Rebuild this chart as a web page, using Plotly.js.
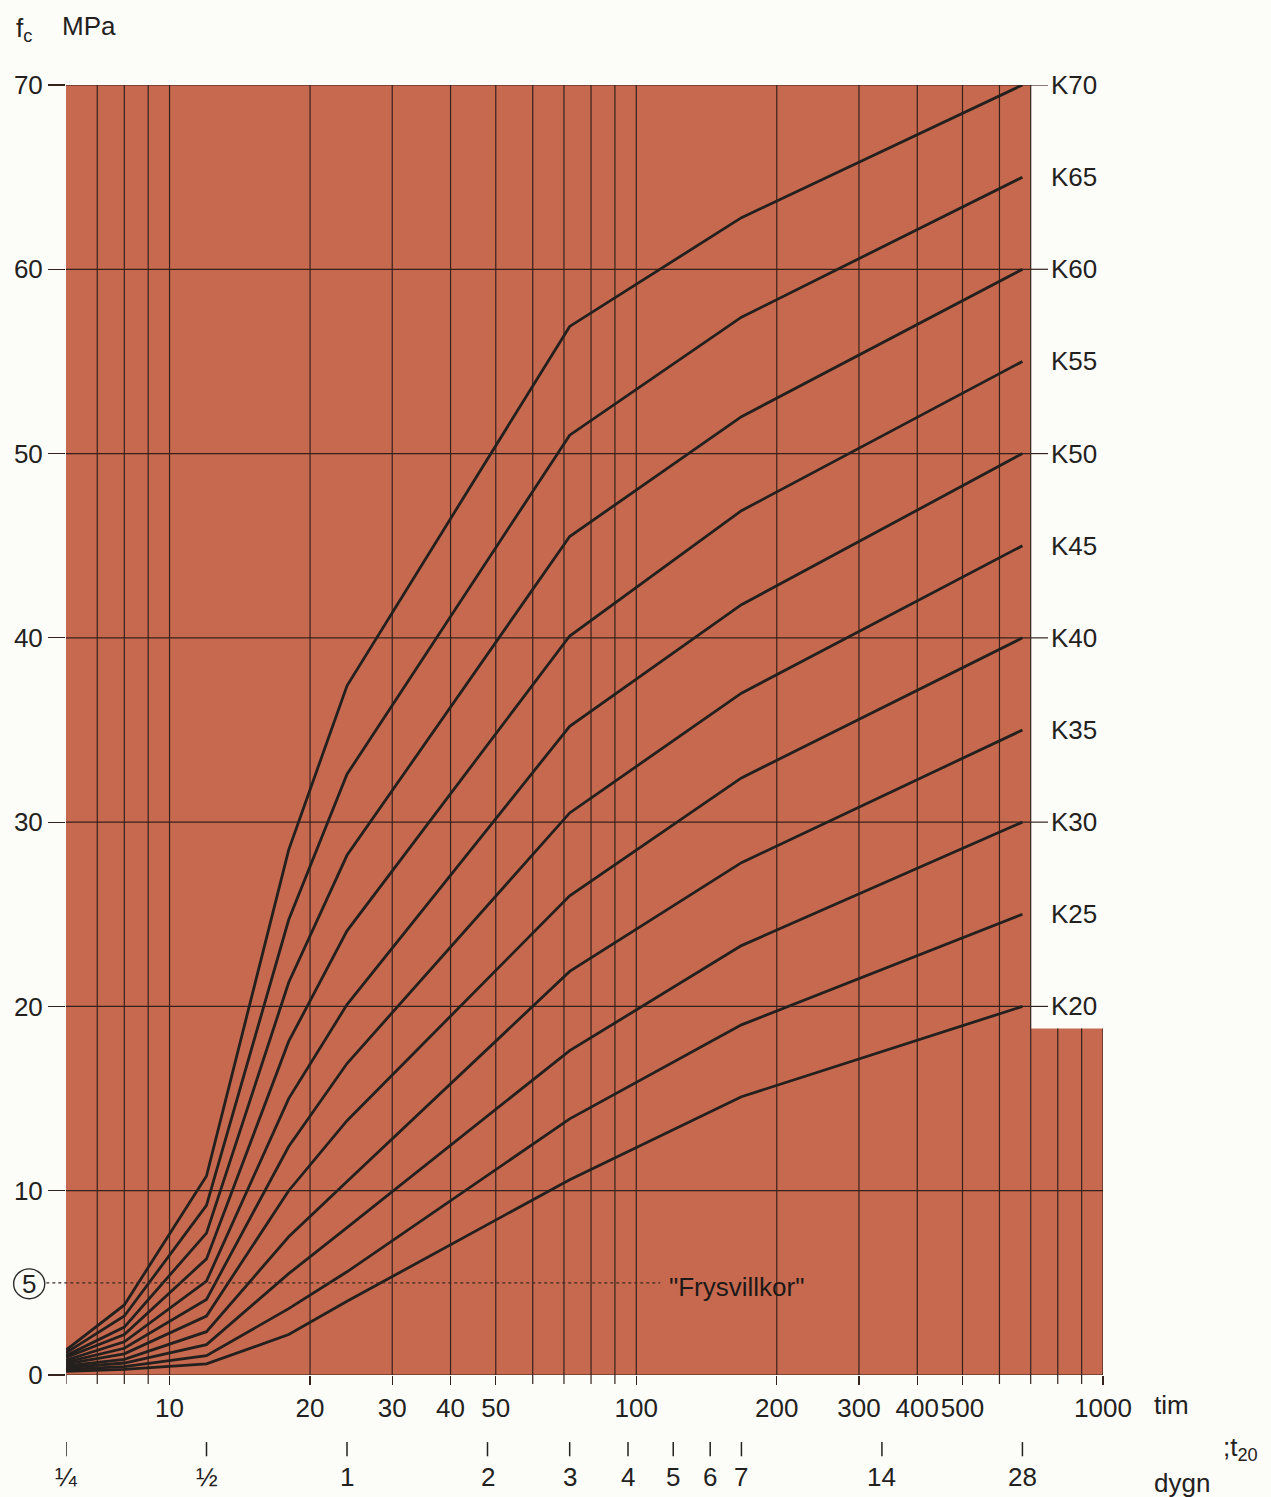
<!DOCTYPE html>
<html>
<head>
<meta charset="utf-8">
<script src="https://cdn.plot.ly/plotly-3.0.1.min.js"></script>
<style>
  html, body { margin: 0; padding: 0; background: #fcfdf9; }
  #chart { width: 1271px; height: 1497px; }
</style>
</head>
<body>
<div id="chart"></div>
<script>
// ---- data ----
const hours = [6, 8, 12, 18, 24, 72, 168, 672];
const classNames = ['K70', 'K65', 'K60', 'K55', 'K50', 'K45', 'K40', 'K35', 'K30', 'K25', 'K20'];
const K70 = [1.35, 3.8, 10.8, 28.5, 37.4, 56.9, 62.8, 70];
const K65 = [1.2, 3.2, 9.2, 24.7, 32.6, 51.0, 57.4, 65];
const K60 = [1.05, 2.6, 7.7, 21.3, 28.2, 45.5, 52.0, 60];
const K55 = [0.95, 2.2, 6.3, 18.1, 24.1, 40.1, 46.9, 55];
const K50 = [0.8, 1.8, 5.1, 15.0, 20.1, 35.2, 41.8, 50];
const K45 = [0.7, 1.45, 4.1, 12.4, 16.9, 30.5, 37.0, 45];
const K40 = [0.6, 1.15, 3.2, 10.0, 13.8, 26.0, 32.4, 40];
const K35 = [0.5, 0.85, 2.35, 7.5, 10.5, 21.9, 27.8, 35];
const K30 = [0.4, 0.65, 1.65, 5.5, 8.0, 17.6, 23.3, 30];
const K25 = [0.3, 0.45, 1.05, 3.6, 5.6, 13.9, 19.0, 25];
const K20 = [0.2, 0.3, 0.6, 2.2, 4.0, 10.6, 15.1, 20];
const seriesValues = [K70, K65, K60, K55, K50, K45, K40, K35, K30, K25, K20];

// hour axis (tim): grid positions and labelled ticks
const hourGrid = [6, 7, 8, 9, 10, 20, 30, 40, 50, 60, 70, 80, 90, 100, 200, 300, 400, 500, 600, 700, 800, 900, 1000];
const hourTicks = [10, 20, 30, 40, 50, 100, 200, 300, 400, 500, 1000];
const hourLabels = ['10', '20', '30', '40', '50', '100', '200', '300', '400', '500', '1000'];
// day axis (dygn)
const dayHours = [6, 12, 24, 48, 72, 96, 120, 144, 168, 336, 672];
const dayLabels = ['¼', '½', '1', '2', '3', '4', '5', '6', '7', '14', '28'];
// strength axis
const mpaTicks = [0, 10, 20, 30, 40, 50, 60, 70];
const frostLevel = 5;
const frostLabel = '"Frysvillkor"';

// ---- styles ----
const FONT = 'Liberation Sans, Arial, Helvetica, sans-serif';
const TXT = '#232120';
const FS = 26;
const BG = '#c7694f';
const GRID = '#36221d';
const CURVE = '#23201e';
const mainRight = 700;   // hours: right edge of the main coloured field
const lowTop = 18.8;     // MPa: top of the narrow lower-right extension

const traces = seriesValues.map((vals, i) => ({
  type: 'scatter', mode: 'lines', x: hours, y: vals, name: classNames[i],
  line: { color: CURVE, width: 2.8 }, hoverinfo: 'skip', showlegend: false
}));

const shapes = [];
// coloured fields
shapes.push({ type: 'rect', layer: 'below', xref: 'x', yref: 'y', x0: 6, x1: mainRight, y0: 0, y1: 70, fillcolor: BG, line: { width: 0 } });
shapes.push({ type: 'rect', layer: 'below', xref: 'x', yref: 'y', x0: mainRight, x1: 1000, y0: 0, y1: lowTop, fillcolor: BG, line: { width: 0 } });
// vertical grid lines (+ short tick below the axis where no label tick is drawn)
hourGrid.forEach(v => {
  if (v !== 6) {
    shapes.push({ type: 'line', layer: 'below', xref: 'x', yref: 'y', x0: v, x1: v, y0: 0, y1: v <= mainRight ? 70 : lowTop, line: { color: GRID, width: 1.2 } });
  }
  if (hourTicks.indexOf(v) < 0) {
    shapes.push({ type: 'line', xref: 'x', yref: 'paper', x0: v, x1: v, y0: 0, y1: -9 / 1290, line: { color: GRID, width: 1.2 } });
  }
});
// horizontal grid lines + leaders to class labels
mpaTicks.forEach(m => {
  shapes.push({ type: 'line', layer: 'below', xref: 'x', yref: 'y', x0: 6, x1: m <= lowTop ? 1000 : mainRight, y0: m, y1: m, line: { color: GRID, width: 1.2 } });
  if (m >= 20) {
    shapes.push({ type: 'line', layer: 'below', xref: 'paper', yref: 'y', x0: 0.93, x1: 0.947, y0: m, y1: m, line: { color: GRID, width: 1.2 } });
  }
});
// frost condition dotted line and circle
shapes.push({ type: 'line', layer: 'above', xref: 'paper', yref: 'y', x0: -0.019, x1: 0.573, y0: frostLevel, y1: frostLevel, line: { color: '#3a2a26', width: 1.2, dash: 'dot' } });
shapes.push({ type: 'circle', xref: 'paper', yref: 'y', x0: -0.0505, x1: -0.0205, y0: frostLevel - 0.86, y1: frostLevel + 0.76, line: { color: '#2a2a2a', width: 1.4 } });
// day-row tick marks
dayHours.forEach(h => {
  shapes.push({ type: 'line', xref: 'x', yref: 'paper', x0: h, x1: h, y0: -0.052, y1: -0.063, line: { color: TXT, width: 1.5 } });
});

const annotations = [];
// class labels at the end of each curve
seriesValues.forEach((vals, i) => {
  annotations.push({ xref: 'paper', yref: 'y', x: 0.948, y: vals[vals.length - 1], xanchor: 'left', yanchor: 'middle', text: classNames[i], showarrow: false, font: { family: FONT, size: FS, color: TXT } });
});
// day labels
dayHours.forEach((h, i) => {
  annotations.push({ xref: 'x', yref: 'paper', x: Math.log10(h), y: -0.079, xanchor: 'center', yanchor: 'middle', text: dayLabels[i], showarrow: false, font: { family: FONT, size: FS, color: TXT } });
});
annotations.push({ xref: 'paper', yref: 'paper', x: 1.0475, y: -0.0235, xanchor: 'left', yanchor: 'middle', text: 'tim', showarrow: false, font: { family: FONT, size: FS, color: TXT } });
annotations.push({ xref: 'paper', yref: 'paper', x: 1.0475, y: -0.0835, xanchor: 'left', yanchor: 'middle', text: 'dygn', showarrow: false, font: { family: FONT, size: FS, color: TXT } });
annotations.push({ xref: 'paper', yref: 'paper', x: 1.114, y: -0.057, xanchor: 'left', yanchor: 'middle', text: ';t<sub>20</sub>', showarrow: false, font: { family: FONT, size: FS, color: TXT } });
annotations.push({ xref: 'paper', yref: 'paper', x: -0.0505, y: 1.043, xanchor: 'left', yanchor: 'middle', text: 'f<sub>c</sub>', showarrow: false, font: { family: FONT, size: FS, color: TXT } });
annotations.push({ xref: 'paper', yref: 'paper', x: -0.0055, y: 1.0455, xanchor: 'left', yanchor: 'middle', text: 'MPa', showarrow: false, font: { family: FONT, size: FS, color: TXT } });
annotations.push({ xref: 'paper', yref: 'y', x: -0.0355, y: frostLevel - 0.05, xanchor: 'center', yanchor: 'middle', text: String(frostLevel), showarrow: false, font: { family: FONT, size: FS, color: TXT } });
annotations.push({ xref: 'paper', yref: 'y', x: 0.5795, y: frostLevel - 0.25, xanchor: 'left', yanchor: 'middle', text: frostLabel, showarrow: false, font: { family: FONT, size: FS, color: '#1c1918' } });

const layout = {
  width: 1271, height: 1497,
  margin: { l: 66, r: 168, t: 85, b: 122 },
  paper_bgcolor: '#fcfdf9', plot_bgcolor: 'rgba(0,0,0,0)',
  showlegend: false, hovermode: false,
  font: { family: FONT, size: FS, color: TXT },
  xaxis: {
    type: 'log', range: [Math.log10(6), 3], tickmode: 'array', tickvals: hourTicks, ticktext: hourLabels,
    ticks: 'outside', ticklen: 9, tickwidth: 1.2, tickcolor: GRID, showgrid: false, zeroline: false, showline: false,
    tickangle: 0, tickfont: { family: FONT, size: FS, color: TXT }, ticklabelstandoff: 1, fixedrange: true
  },
  yaxis: {
    range: [0, 70], tickmode: 'array', tickvals: mpaTicks, ticktext: mpaTicks.map(String),
    ticks: 'outside', ticklen: 17, tickwidth: 1.2, tickcolor: GRID, showgrid: false, zeroline: false, showline: false,
    tickfont: { family: FONT, size: FS, color: TXT }, ticklabelstandoff: 0, fixedrange: true
  },
  shapes: shapes,
  annotations: annotations
};

Plotly.newPlot('chart', traces, layout, { staticPlot: true, displayModeBar: false });
</script>
</body>
</html>
